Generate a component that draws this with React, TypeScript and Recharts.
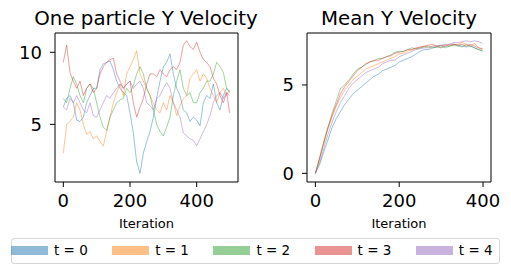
import React from "react";
import { LineChart, Line, XAxis, YAxis, ReferenceArea } from "recharts";

// tab10, same order as the legend
const SERIES = ["t = 0", "t = 1", "t = 2", "t = 3", "t = 4"];
const COLORS = ["#1f77b4", "#ff7f0e", "#2ca02c", "#d62728", "#9467bd"];

// ── One particle Y velocity (read every 10 iterations) ───────────────────────
const ITER_ONE = [
  0, 10, 20, 30, 40, 50, 60, 70, 80, 90, 100, 110, 120, 130, 140, 150, 160, 170, 180, 190,
  200, 210, 220, 230, 240, 250, 260, 270, 280, 290, 300, 310, 320, 330, 340, 350, 360, 370,
  380, 390, 400, 410, 420, 430, 440, 450, 460, 470, 480, 490, 499,
];
const ONE_T0 = [
  6.2, 6.8, 7.0, 6.5, 5.3, 5.2, 5.5, 6.5, 7.0, 7.5, 7.5, 8.8, 9.2, 9.3, 9.4, 8.8, 8.0, 7.5, 7.2, 7.0,
  5.8, 4.4, 2.4, 1.6, 3.0, 3.8, 4.5, 5.5, 6.8, 8.0, 9.0, 9.3, 9.9, 8.5, 7.5, 7.0, 6.0, 5.8,
  5.2, 5.5, 5.3, 4.9, 6.5, 7.0, 6.8, 7.8, 6.5, 6.0, 7.0, 7.5, 7.2,
];
const ONE_T1 = [
  3.0, 5.0, 5.2, 5.5, 6.5, 6.0, 5.0, 4.3, 4.5, 4.0, 4.2, 3.8, 3.5, 4.5, 5.5, 6.5, 7.2, 7.8, 7.0, 8.5,
  9.0, 9.5, 10.1, 8.5, 8.0, 7.5, 7.0, 6.5, 6.0, 5.8, 6.5, 6.0, 7.0, 6.5, 5.6, 6.3, 6.8, 7.0,
  8.2, 8.5, 8.8, 8.0, 8.5, 8.2, 7.5, 7.0, 6.5, 7.2, 7.5, 7.0, 7.4,
];
const ONE_T2 = [
  6.8, 6.5, 7.5, 8.3, 7.8, 7.0, 6.5, 7.5, 7.8, 7.5, 6.5, 5.5, 4.8, 4.6, 5.5, 6.0, 6.5, 6.7, 6.8, 7.5,
  7.2, 7.7, 8.5, 9.0, 8.5, 7.5, 7.0, 6.0, 5.0, 4.5, 4.2, 4.8, 5.5, 7.0, 8.0, 8.8, 7.5, 7.0,
  7.2, 6.5, 6.5, 7.2, 7.5, 8.0, 8.0, 8.5, 9.3, 9.0, 8.6, 7.5, 7.3,
];
const ONE_T3 = [
  9.3, 10.5, 8.6, 8.0, 7.5, 8.0, 7.0, 7.5, 7.8, 7.2, 7.5, 8.5, 9.0, 9.3, 9.5, 9.6, 8.5, 8.0, 7.5, 7.8,
  8.0, 6.5, 5.5, 6.2, 6.8, 7.8, 8.5, 8.5, 8.3, 8.8, 8.5, 8.3, 8.8, 9.0, 8.8, 9.3, 10.5, 10.8,
  10.4, 10.2, 10.7, 10.0, 9.5, 9.3, 9.0, 8.2, 7.8, 7.0, 6.5, 7.2, 5.8,
];
const ONE_T4 = [
  6.2, 6.0, 6.8, 6.5, 7.0, 6.5, 6.0, 5.8, 6.5, 5.6, 5.5, 6.0, 6.5, 7.0, 6.8, 7.2, 7.5, 7.8, 7.5, 7.8,
  8.0, 7.5, 7.8, 8.0, 7.5, 6.5, 6.3, 6.0, 6.8, 7.0, 7.5, 7.9, 7.5, 6.5, 6.0, 5.5, 4.4, 4.2,
  4.0, 3.9, 3.5, 4.0, 4.5, 5.0, 5.6, 6.5, 7.0, 7.2, 6.8, 7.2, 7.0,
];

// ── Mean Y velocity (read every 10 iterations) ───────────────────────────────
const ITER_MEAN = [
  0, 10, 20, 30, 40, 50, 60, 70, 80, 90, 100, 110, 120, 130, 140, 150, 160, 170, 180, 190, 200,
  210, 220, 230, 240, 250, 260, 270, 280, 290, 300, 310, 320, 330, 340, 350, 360, 370, 380, 390, 399,
];
const MEAN_T0 = [
  0, 0.5, 1.2, 1.9, 2.6, 3.1, 3.5, 3.9, 4.2, 4.5, 4.7, 4.9, 5.1, 5.3, 5.5, 5.6, 5.8, 5.9, 6.0, 6.1, 6.3,
  6.4, 6.5, 6.6, 6.75, 6.9, 7.0, 7.0, 7.1, 7.15, 7.1, 7.2, 7.2, 7.3, 7.25, 7.2, 7.15, 7.2, 7.1, 7.0, 6.9,
];
const MEAN_T1 = [
  0, 0.8, 1.7, 2.5, 3.2, 3.8, 4.3, 4.7, 5.0, 5.3, 5.5, 5.7, 5.9, 6.0, 6.1, 6.2, 6.3, 6.4, 6.5, 6.6, 6.75,
  6.8, 6.9, 7.0, 7.05, 7.1, 7.2, 7.1, 7.2, 7.2, 7.1, 7.3, 7.2, 7.3, 7.3, 7.4, 7.3, 7.2, 7.35, 7.1, 7.0,
];
const MEAN_T2 = [
  0, 0.8, 1.7, 2.6, 3.4, 4.1, 4.8, 5.0, 5.3, 5.6, 5.9, 6.0, 6.15, 6.3, 6.35, 6.5, 6.5, 6.6, 6.7, 6.85, 6.9,
  6.9, 7.0, 7.1, 7.05, 7.1, 7.15, 7.2, 7.1, 7.15, 7.2, 7.1, 7.2, 7.25, 7.2, 7.15, 7.3, 7.2, 7.1, 7.0, 6.95,
];
const MEAN_T3 = [
  0, 0.9, 1.8, 2.6, 3.3, 3.9, 4.5, 4.9, 5.2, 5.5, 5.8, 6.0, 6.2, 6.3, 6.4, 6.4, 6.5, 6.6, 6.65, 6.8, 6.85,
  6.9, 7.0, 7.0, 7.1, 7.15, 7.2, 7.25, 7.3, 7.2, 7.25, 7.2, 7.3, 7.3, 7.25, 7.3, 7.2, 7.3, 7.2, 7.1, 7.05,
];
const MEAN_T4 = [
  0, 0.6, 1.4, 2.2, 2.9, 3.5, 4.0, 4.4, 4.8, 5.1, 5.3, 5.5, 5.7, 5.8, 5.9, 6.0, 6.2, 6.3, 6.4, 6.4, 6.6,
  6.7, 6.8, 6.9, 7.0, 7.05, 7.1, 7.1, 7.2, 7.2, 7.25, 7.3, 7.3, 7.4, 7.4, 7.45, 7.5, 7.45, 7.5, 7.45, 7.35,
];

const X_TICKS = [0, 200, 400];
const ONE_Y_TICKS = [5, 10];
const MEAN_Y_TICKS = [0, 5];

const FONT = "'DejaVu Sans', sans-serif";

function buildRows(iters: number[], cols: number[][]) {
  return iters.map((it, i) => {
    const row: Record<string, number> = { iter: it };
    cols.forEach((c, k) => { row[`t${k}`] = c[i]; });
    return row;
  });
}

const rowsOne = buildRows(ITER_ONE, [ONE_T0, ONE_T1, ONE_T2, ONE_T3, ONE_T4]);
const rowsMean = buildRows(ITER_MEAN, [MEAN_T0, MEAN_T1, MEAN_T2, MEAN_T3, MEAN_T4]);

const tickStyle = { fontSize: 18, fill: "#000", fontFamily: FONT };

interface PanelProps {
  rows: Record<string, number>[];
  xDomain: [number, number];
  yDomain: [number, number];
  yTicks: number[];
  yWidth: number;
  width: number;
  right: number;
}

function Panel({ rows, xDomain, yDomain, yTicks, yWidth, width, right }: PanelProps) {
  return (
    <LineChart width={width} height={240} data={rows}
      margin={{ top: 33, right, bottom: 8, left: 0 }}>
      <XAxis dataKey="iter" type="number" domain={xDomain} ticks={X_TICKS} allowDataOverflow
        tick={tickStyle} tickSize={5} tickMargin={7} height={50}
        axisLine={false} tickLine={{ stroke: "#000" }}
        label={{ value: "Iteration", position: "insideBottom", offset: 4, fontSize: 13, fill: "#000", fontFamily: FONT }} />
      <YAxis type="number" domain={yDomain} ticks={yTicks} allowDataOverflow
        tick={tickStyle} tickSize={5} tickMargin={8} width={yWidth}
        axisLine={false} tickLine={{ stroke: "#000" }} />
      {SERIES.map((name, k) => (
        <Line key={name} dataKey={`t${k}`} name={name} type="linear"
          stroke={COLORS[k]} strokeOpacity={0.5} strokeWidth={0.9}
          dot={false} activeDot={false} isAnimationActive={false} />
      ))}
      {/* matplotlib-style frame on all four sides */}
      <ReferenceArea x1={xDomain[0]} x2={xDomain[1]} y1={yDomain[0]} y2={yDomain[1]}
        fill="none" stroke="#000" strokeWidth={1} ifOverflow="visible" />
    </LineChart>
  );
}

const titleStyle: React.CSSProperties = {
  position: "absolute", top: 9, fontSize: 19.8, lineHeight: "19px",
  fontFamily: FONT, color: "#000", textAlign: "center", whiteSpace: "nowrap",
};

export default function App() {
  return (
    <div style={{ position: "absolute", left: 0, top: 0, width: 511, height: 273, background: "#fff", fontFamily: FONT }}>
      <div style={{ ...titleStyle, left: 26, width: 240 }}>One particle Y Velocity</div>
      <div style={{ ...titleStyle, left: 279, width: 240 }}>Mean Y Velocity</div>

      <div style={{ position: "absolute", left: 0, top: 0 }}>
        <Panel rows={rowsOne} xDomain={[-25, 524]} yDomain={[1.0, 11.34]} yTicks={ONE_Y_TICKS}
          yWidth={55} width={250} right={12} />
      </div>
      <div style={{ position: "absolute", left: 260, top: 0 }}>
        <Panel rows={rowsMean} xDomain={[-20, 419]} yDomain={[-0.49, 7.94]} yTicks={MEAN_Y_TICKS}
          yWidth={47} width={251} right={20} />
      </div>

      {/* legend */}
      <div style={{ position: "absolute", left: 11, top: 238, width: 489, height: 26,
        border: "1px solid #d6d6d6", borderRadius: 3, boxSizing: "border-box" }} />
      {SERIES.map((name, k) => (
        <div key={name} style={{ position: "absolute", left: 11 + k * 101.2, top: 243,
          display: "flex", alignItems: "center", height: 14 }}>
          <div style={{ width: 37, height: 9, background: COLORS[k], opacity: 0.5 }} />
          <span style={{ marginLeft: 6, fontSize: 13.5, lineHeight: "14px", color: "#000" }}>{name}</span>
        </div>
      ))}
    </div>
  );
}
